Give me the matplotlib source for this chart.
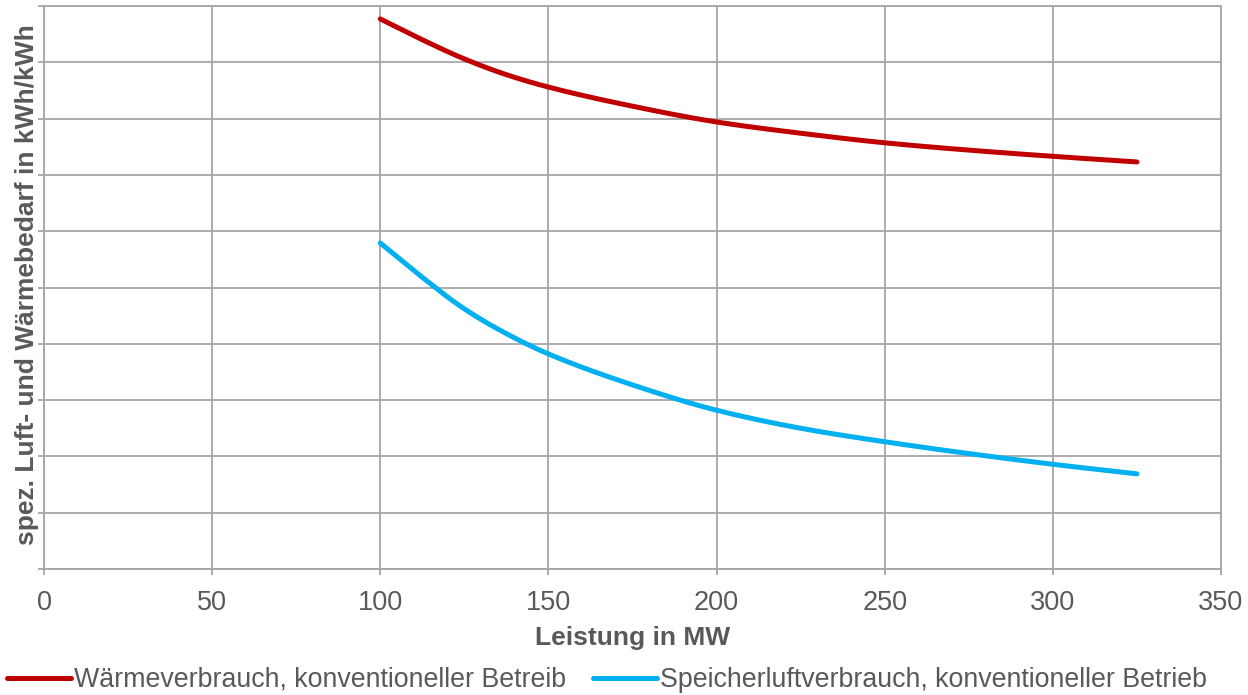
import matplotlib
matplotlib.use("Agg")
import matplotlib.pyplot as plt
import numpy as np

plt.rcParams['font.family'] = ['Liberation Sans', 'DejaVu Sans']

# data (y in arbitrary grid units, axis shows no values)
leistung = [100, 112.5, 125, 137.5, 150, 175, 200, 225, 250, 275, 300, 325]
waerme = [9.77, 9.40, 9.06, 8.78, 8.56, 8.22, 7.94, 7.74, 7.57, 7.44, 7.33, 7.23]
speicherluft = [5.79, 5.18, 4.62, 4.18, 3.82, 3.27, 2.82, 2.50, 2.26, 2.05, 1.86, 1.69]

x_ticks = [0, 50, 100, 150, 200, 250, 300, 350]
y_grid = list(range(0, 11))

labels = ["Wärmeverbrauch, konventioneller Betreib",
          "Speicherluftverbrauch, konventioneller Betrieb"]
colors = ["#C00000", "#00B0F0"]
text_col = "#595959"
grid_col = "#A6A6A6"

fig = plt.figure(figsize=(12.48, 6.95), dpi=100)
ax = fig.add_axes([44/1248, 1-569/695, (1221-44)/1248, (569-6)/695])

def smooth(x, y, n=200):
    x = np.asarray(x, float); y = np.asarray(y, float)
    h = np.diff(x); d = np.diff(y)/h
    m = np.zeros_like(y)
    m[0] = d[0]; m[-1] = d[-1]
    for i in range(1, len(x)-1):
        if d[i-1]*d[i] > 0:
            w1 = 2*h[i] + h[i-1]; w2 = h[i] + 2*h[i-1]
            m[i] = (w1 + w2)/(w1/d[i-1] + w2/d[i])
    xs = np.linspace(x[0], x[-1], n)
    idx = np.clip(np.searchsorted(x, xs) - 1, 0, len(x)-2)
    t = (xs - x[idx]) / h[idx]
    h00 = 2*t**3 - 3*t**2 + 1; h10 = t**3 - 2*t**2 + t
    h01 = -2*t**3 + 3*t**2; h11 = t**3 - t**2
    ys = h00*y[idx] + h10*h[idx]*m[idx] + h01*y[idx+1] + h11*h[idx]*m[idx+1]
    return xs, ys

for yv, c, lab in zip([waerme, speicherluft], colors, labels):
    xs, ys = smooth(leistung, yv)
    ax.plot(xs, ys, color=c, lw=3.6, solid_capstyle='round', label=lab, zorder=3)

ax.set_xlim(0, 350)
ax.set_ylim(0, 10)
ax.set_xticks(x_ticks)
ax.set_yticks(y_grid)
ax.set_yticklabels([])
ax.grid(True, color=grid_col, lw=1.3)
ax.set_axisbelow(True)
for s in ax.spines.values():
    s.set_color(grid_col)
    s.set_linewidth(1.3)
ax.tick_params(axis='y', length=4, color=grid_col, width=1.3, direction='out')
ax.tick_params(axis='x', length=4, color=grid_col, width=1.3, direction='out',
               labelsize=19.5, labelcolor=text_col, pad=11)

ax.set_xlabel("Leistung in MW", fontsize=19, fontweight='bold', color=text_col, labelpad=7)
fig.text(27/1248, 1-285/695, "spez. Luft- und Wärmebedarf in kWh/kWh", rotation=90,
         ha='center', va='center', fontsize=19, fontweight='bold', color=text_col)

leg = fig.legend(loc='center left', bbox_to_anchor=(4/1248, 1-680/695), ncol=2,
                 frameon=False, fontsize=19.3, handlelength=2.4, handletextpad=0.1,
                 columnspacing=1.0, labelcolor=text_col, borderaxespad=0, borderpad=0.1)

fig.savefig("out.png", dpi=100)
